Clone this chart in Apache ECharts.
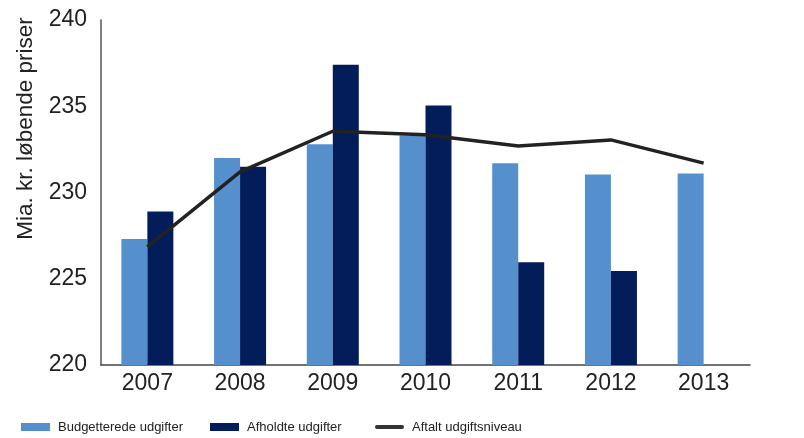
<!DOCTYPE html>
<html><head><meta charset="utf-8">
<script src="https://cdn.jsdelivr.net/npm/echarts@6/dist/echarts.min.js"></script>
<style>html,body{margin:0;padding:0;background:#fff}#c{width:804px;height:438px}</style>
</head><body><div id="c"></div>
<script>
var years = ['2007','2008','2009','2010','2011','2012','2013'];
var budgetterede = [227.3, 232.0, 232.8, 233.3, 231.7, 231.05, 231.1];
var afholdte = [228.9, 231.5, 237.4, 235.05, 225.95, 225.45, null];
var aftalt = [226.85, 231.2, 233.55, 233.35, 232.7, 233.05, 231.7];
var yTicks = [220, 225, 230, 235, 240];

var FONT = 'Liberation Sans, Arial, sans-serif';
var chart = echarts.init(document.getElementById('c'));
function lg(name, left, icon, h) {
  return {
    data: [{name: name, icon: icon}],
    left: left, top: 418, padding: 0, itemWidth: 29, itemHeight: h, itemGap: 0,
    textStyle: {fontFamily: FONT, fontSize: 13, color: '#222', padding: [0,0,0,3], lineHeight: 18},
    selectedMode: false
  };
}
chart.setOption({
  animation: false,
  grid: {left: 101, right: 54, top: 20, bottom: 73},
  legend: [
    lg('Budgetterede udgifter', 21, 'rect', 8),
    lg('Afholdte udgifter', 210, 'rect', 8),
    lg('Aftalt udgiftsniveau', 375, 'path://M2,0 L28,0 A2,2 0 0 1 28,4 L2,4 A2,2 0 0 1 2,0 Z', 4)
  ],
  xAxis: {
    type: 'category', data: years,
    axisLine: {lineStyle: {color: '#444', width: 1.5}},
    axisTick: {show: false},
    axisLabel: {fontFamily: FONT, fontSize: 23, color: '#222', margin: 7}
  },
  yAxis: {
    type: 'value', min: yTicks[0], max: yTicks[yTicks.length-1], interval: 5,
    name: 'Mia. kr. løbende priser', nameLocation: 'middle', nameGap: 59,
    nameTextStyle: {fontFamily: FONT, fontSize: 22.5, color: '#222', padding: [0,0,0,128]},
    axisLine: {show: true, lineStyle: {color: '#555', width: 1.5}},
    axisTick: {show: false},
    splitLine: {show: false},
    axisLabel: {fontFamily: FONT, fontSize: 23, color: '#222', margin: 14}
  },
  series: [
    {name: 'Budgetterede udgifter', type: 'bar', data: budgetterede, barWidth: 26, barGap: '0%', itemStyle: {color: '#5690CC'}},
    {name: 'Afholdte udgifter', type: 'bar', data: afholdte, barWidth: 26, barGap: '0%', itemStyle: {color: '#031C5A'}},
    {name: 'Aftalt udgiftsniveau', type: 'line', data: aftalt, showSymbol: false, symbol: 'none', z: 5,
     lineStyle: {color: '#222', width: 3.5}, itemStyle: {color: '#333'}}
  ]
});
</script></body></html>
